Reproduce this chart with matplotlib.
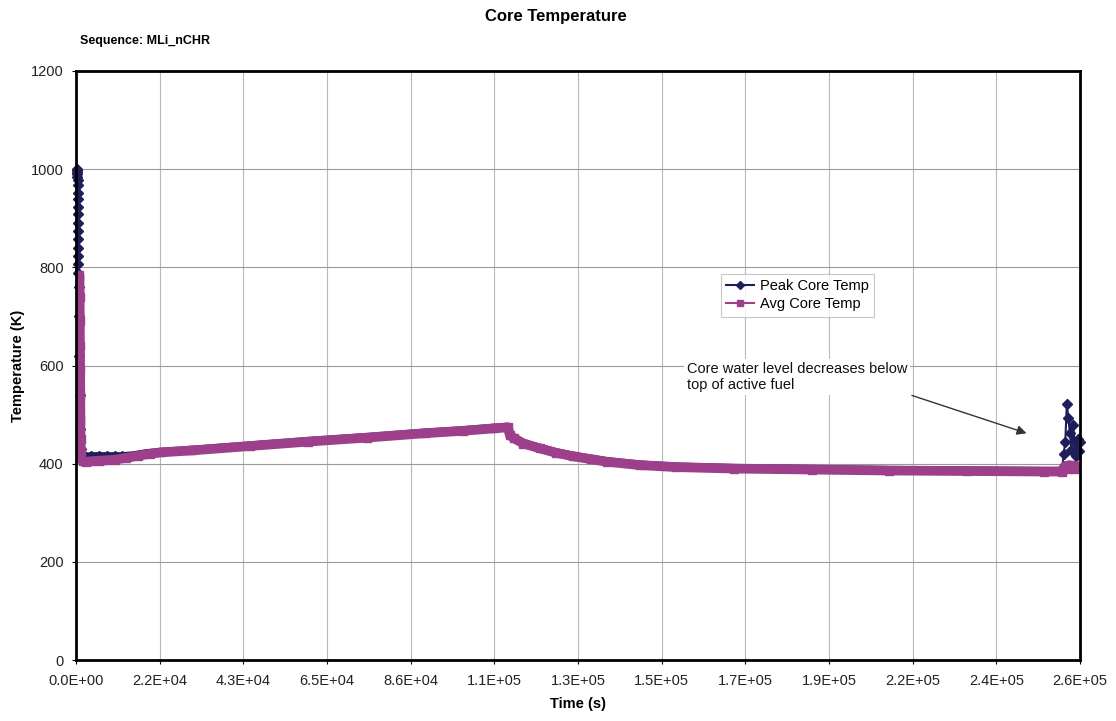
import matplotlib
matplotlib.use("Agg")
import matplotlib.pyplot as plt
from matplotlib.ticker import FixedLocator, FuncFormatter
from matplotlib.lines import Line2D

plt.rcParams['font.family'] = ['Liberation Sans', 'DejaVu Sans']

# ---------------- data ----------------
peak_t = [300, 320, 340, 360, 380, 400, 420, 440, 460, 480, 500, 520, 540, 560,
          580, 600, 620, 640, 700, 800, 900, 1000, 1100, 1250, 1500, 2500, 4000,
          6000, 8000, 10000, 12000, 15000, 18000, 22000, 30000, 45000, 60000,
          75000, 90000, 100000, 108000, 111500, 112000, 113000, 115500, 119800,
          124000, 128400, 133000, 137000, 145600, 155000, 170000, 190000,
          210000, 230000, 250000, 254500, 255000, 255400, 255800, 256200,
          256600, 257000, 257400, 257800, 258200, 258600, 259000, 259200]
peak_temp = [1000, 998, 995, 990, 985, 978, 968, 952, 939, 922, 908, 891, 874,
             857, 840, 823, 806, 789, 760, 700, 620, 540, 470, 430, 414, 414,
             415, 415, 415, 415, 415, 417, 421, 424, 428, 437, 446, 454, 463,
             468, 473, 475, 459, 453, 442, 432, 423, 416, 410, 405, 398, 394,
             391, 389, 387, 386, 385, 385, 420, 445, 521, 493, 462, 428, 479,
             444, 415, 450, 425, 445]

avg_t = [900, 940, 980, 1020, 1060, 1100, 1140, 1180, 1230, 1350, 1700, 2500,
         4000, 6000, 8000, 10000, 13000, 16000, 19000, 22000, 30000, 45000,
         60000, 75000, 90000, 100000, 108000, 111500, 112000, 113000, 115500,
         119800, 124000, 128400, 133000, 137000, 145600, 155000, 170000,
         190000, 210000, 230000, 250000, 254500, 255000, 255500, 256000,
         256500, 257000, 257500, 258000, 258500, 259000, 259200]
avg_temp = [785, 740, 690, 640, 590, 540, 490, 450, 425, 412, 405, 403, 405,
            406, 407, 408, 412, 416, 420, 423, 427, 436, 445, 453, 462, 467,
            472, 474, 458, 452, 441, 431, 422, 415, 409, 404, 397, 393, 390,
            388, 386, 385, 384, 384, 392, 396, 390, 397, 391, 396, 390, 395,
            391, 394]

x_ticks = [0, 21600, 43200, 64800, 86400, 108000, 129600, 151200, 172800,
           194400, 216000, 237600, 259200]
y_ticks = [0, 200, 400, 600, 800, 1000, 1200]

series_names = ["Peak Core Temp", "Avg Core Temp"]
title = "Core Temperature"
subtitle = "Sequence: MLi_nCHR"
note = "Core water level decreases below\ntop of active fuel"

# ---------------- styling ----------------
peak_color = '#1e1e5a'
avg_color = '#9d3f8b'

fig = plt.figure(figsize=(11.16, 7.21), dpi=100)
ax = fig.add_axes([76/1116, 1-660/721, (1080-76)/1116, (660-71)/721])

ax.set_xlim(0, 259200)
ax.set_ylim(0, 1200)

ax.xaxis.set_major_locator(FixedLocator(x_ticks))
ax.yaxis.set_major_locator(FixedLocator(y_ticks))
ax.xaxis.set_major_formatter(FuncFormatter(lambda v, p: f"{v:.1E}"))
ax.yaxis.set_major_formatter(FuncFormatter(lambda v, p: f"{int(round(v))}"))

ax.grid(True, axis='y', color='#9a9a9a', linewidth=0.8)
ax.grid(True, axis='x', color='#b8b8b8', linewidth=0.8)
ax.set_axisbelow(True)

for s in ax.spines.values():
    s.set_linewidth(2.0)
    s.set_color('black')
    s.set_zorder(7)

ax.tick_params(axis='both', labelsize=10.5, length=3, width=0.8,
               colors='black', labelcolor='#222222')
ax.tick_params(axis='x', pad=7)
ax.tick_params(axis='y', pad=6)

# markers of the peak series only where they show outside the avg band
peak_marks = [i for i, t in enumerate(peak_t) if t < 13000 or t > 254000]
mid = [i for i, t in enumerate(peak_t) if 1500 <= t <= 254500]
mid_t = [peak_t[i] for i in mid]
mid_v = [peak_temp[i] for i in mid]

# peak series: thick band in the middle (dense markers), thin with diamonds elsewhere
ax.plot(mid_t, mid_v, color=peak_color, linewidth=6, zorder=3,
        solid_joinstyle='round')
ax.plot(peak_t, peak_temp, color=peak_color, linewidth=1.5, marker='D',
        markersize=5, markevery=peak_marks, zorder=3.5, clip_on=False)
# avg series (thick band from dense markers)
ax.plot(avg_t, avg_temp, color=avg_color, linewidth=7, zorder=4,
        solid_joinstyle='round', solid_capstyle='butt')
ax.plot(avg_t, avg_temp, color=avg_color, linewidth=1.5, marker='s',
        markersize=5.5, zorder=4)

handles = [Line2D([], [], color=peak_color, marker='D', markersize=4, linewidth=1.5),
           Line2D([], [], color=avg_color, marker='s', markersize=5, linewidth=1.5)]
leg = ax.legend(handles, series_names, loc='upper left',
                bbox_to_anchor=(721/1116, 1-274/721), bbox_transform=fig.transFigure,
                fontsize=10.5, frameon=True, fancybox=False, handlelength=1.9,
                handletextpad=0.4, borderpad=0.35, labelspacing=0.3,
                borderaxespad=0)
leg.get_frame().set_edgecolor('#bbbbbb')
leg.get_frame().set_linewidth(0.8)
leg.set_zorder(6)

# annotation
ax.text(157700, 608, note, fontsize=10.5, ha='left', va='top', color='#111111',
        linespacing=1.2, zorder=5,
        bbox=dict(facecolor='white', edgecolor='none', pad=2))
ax.annotate('', xy=(245400, 462), xytext=(215800, 539),
            arrowprops=dict(arrowstyle='-|>', color='#333333', lw=1.0,
                            mutation_scale=14, shrinkA=0, shrinkB=0),
            zorder=5)

ax.set_xlabel("Time (s)", fontsize=10.5, fontweight='bold')
ax.set_ylabel("Temperature (K)", fontsize=10.5, fontweight='bold')
ax.xaxis.set_label_coords(0.5, (660-697)/589)
ax.yaxis.set_label_coords((25-76)/1004, 0.5)

fig.text(556/1116, 1-17/721, title, fontsize=12, fontweight='bold',
         ha='center', va='center')
fig.text(80/1116, 1-41/721, subtitle, fontsize=9, fontweight='bold',
         ha='left', va='center')

fig.savefig("out.png", dpi=100)
